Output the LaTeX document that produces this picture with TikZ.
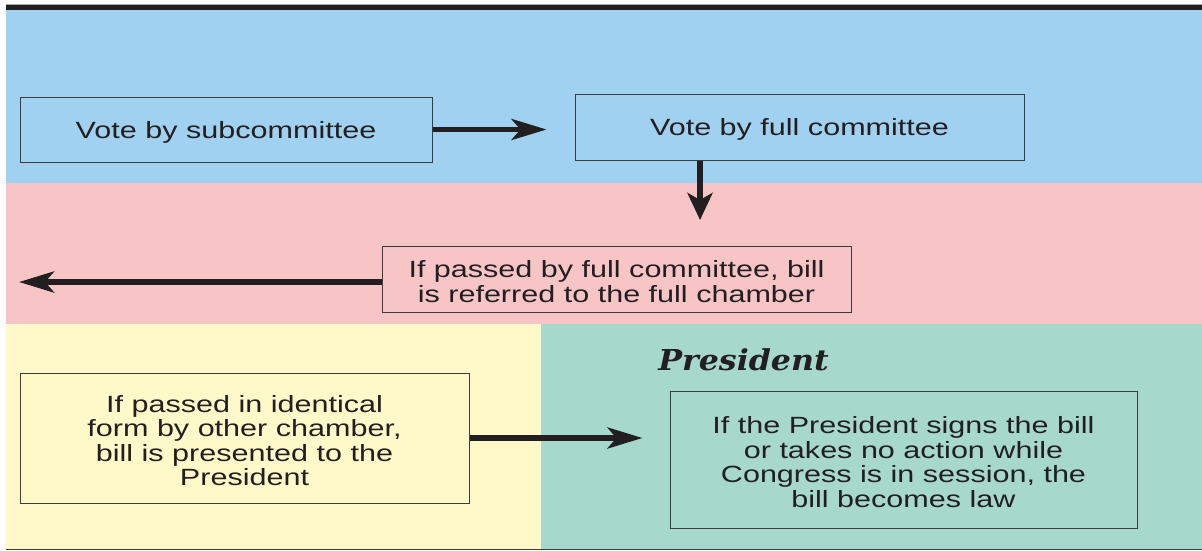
\documentclass[tikz,border=0pt]{standalone}
\usepackage{fontspec}
\setmainfont[FakeStretch=1.3]{Liberation Sans}
\newfontfamily\headfont[FakeStretch=1.1]{DejaVu Serif}
\usepackage{tikz}
\usetikzlibrary{arrows.meta}
\usetikzlibrary{positioning, calc}
\definecolor{bandblue}{HTML}{A1D1F0}
\definecolor{bandpink}{HTML}{F8C5C7}
\definecolor{bandyellow}{HTML}{FFF8C8}
\definecolor{bandteal}{HTML}{A6D8CC}
\definecolor{boxline}{HTML}{3C3C3C}
\definecolor{arrowc}{HTML}{231F20}
\newcommand{\lift}{\rule{0pt}{22pt}}
\tikzstyle{block} = [draw=boxline,line width=1pt,rectangle,inner sep=0pt,align=center,text=arrowc,font=\fontsize{23.5}{24.5}\selectfont]
\tikzstyle{connector} = [-{Stealth[length=35pt,width=21pt,inset=9pt]},line width=5.5pt,draw=arrowc]
\begin{document}
\begin{tikzpicture}[x=1pt,y=-1pt]
\useasboundingbox (0,0) rectangle (1202,550);

% bands
\fill[bandblue] (6,10) rectangle (1202,183);
\fill[bandpink] (6,183) rectangle (1202,324);
\fill[bandyellow] (6,324) rectangle (541,549);
\fill[bandteal] (541,324) rectangle (1202,549);
\draw[gray!70, line width=1pt] (6,4) -- (1202,4);
\draw[arrowc, line width=5.5pt] (6,7.25) -- (1202,7.25);
\draw[boxline, line width=1.5pt] (6,549.25) -- (1202,549.25);

\node[block, fill=bandblue, minimum width=412pt, minimum height=65pt] (sub) at (226,129.5) {\lift Vote by subcommittee};

\node[block, fill=bandblue, minimum width=449pt, minimum height=66pt] (full) at (799.5,127) {\lift Vote by full committee};

\node[block, fill=bandpink, minimum width=469pt, minimum height=66pt] (refer) at (616.5,279) {\lift If passed by full committee, bill\\is referred to the full chamber};

\node[block, fill=bandyellow, minimum width=449pt, minimum height=130pt] (other) at (244.5,438) {\lift If passed in identical\\form by other chamber,\\bill is presented to the\\President};

\node[block, fill=bandteal, minimum width=467pt, minimum height=137pt] (pres) at (903.5,459.5) {\lift If the President signs the bill\\or takes no action while\\Congress is in session, the\\bill becomes law};

\node[anchor=base, text=arrowc, font=\headfont\bfseries\itshape\fontsize{28.8}{30}\selectfont] (presname) at (743.5,370) {President};

\coordinate (downtip) at (700,220);
\coordinate (lefttip) at (19,282);

% now link the nodes
\draw [connector, shorten >=28pt] (sub.east) -- (sub.east -| full.west);
\draw [connector, -{Stealth[length=27pt,width=25pt,inset=7pt]}] (full.south -| downtip) -- (downtip);
\draw [connector] (refer.west |- lefttip) -- (lefttip);
\draw [connector, shorten >=27pt] (other.east) -- (other.east -| pres.west);
\end{tikzpicture}
\end{document}
